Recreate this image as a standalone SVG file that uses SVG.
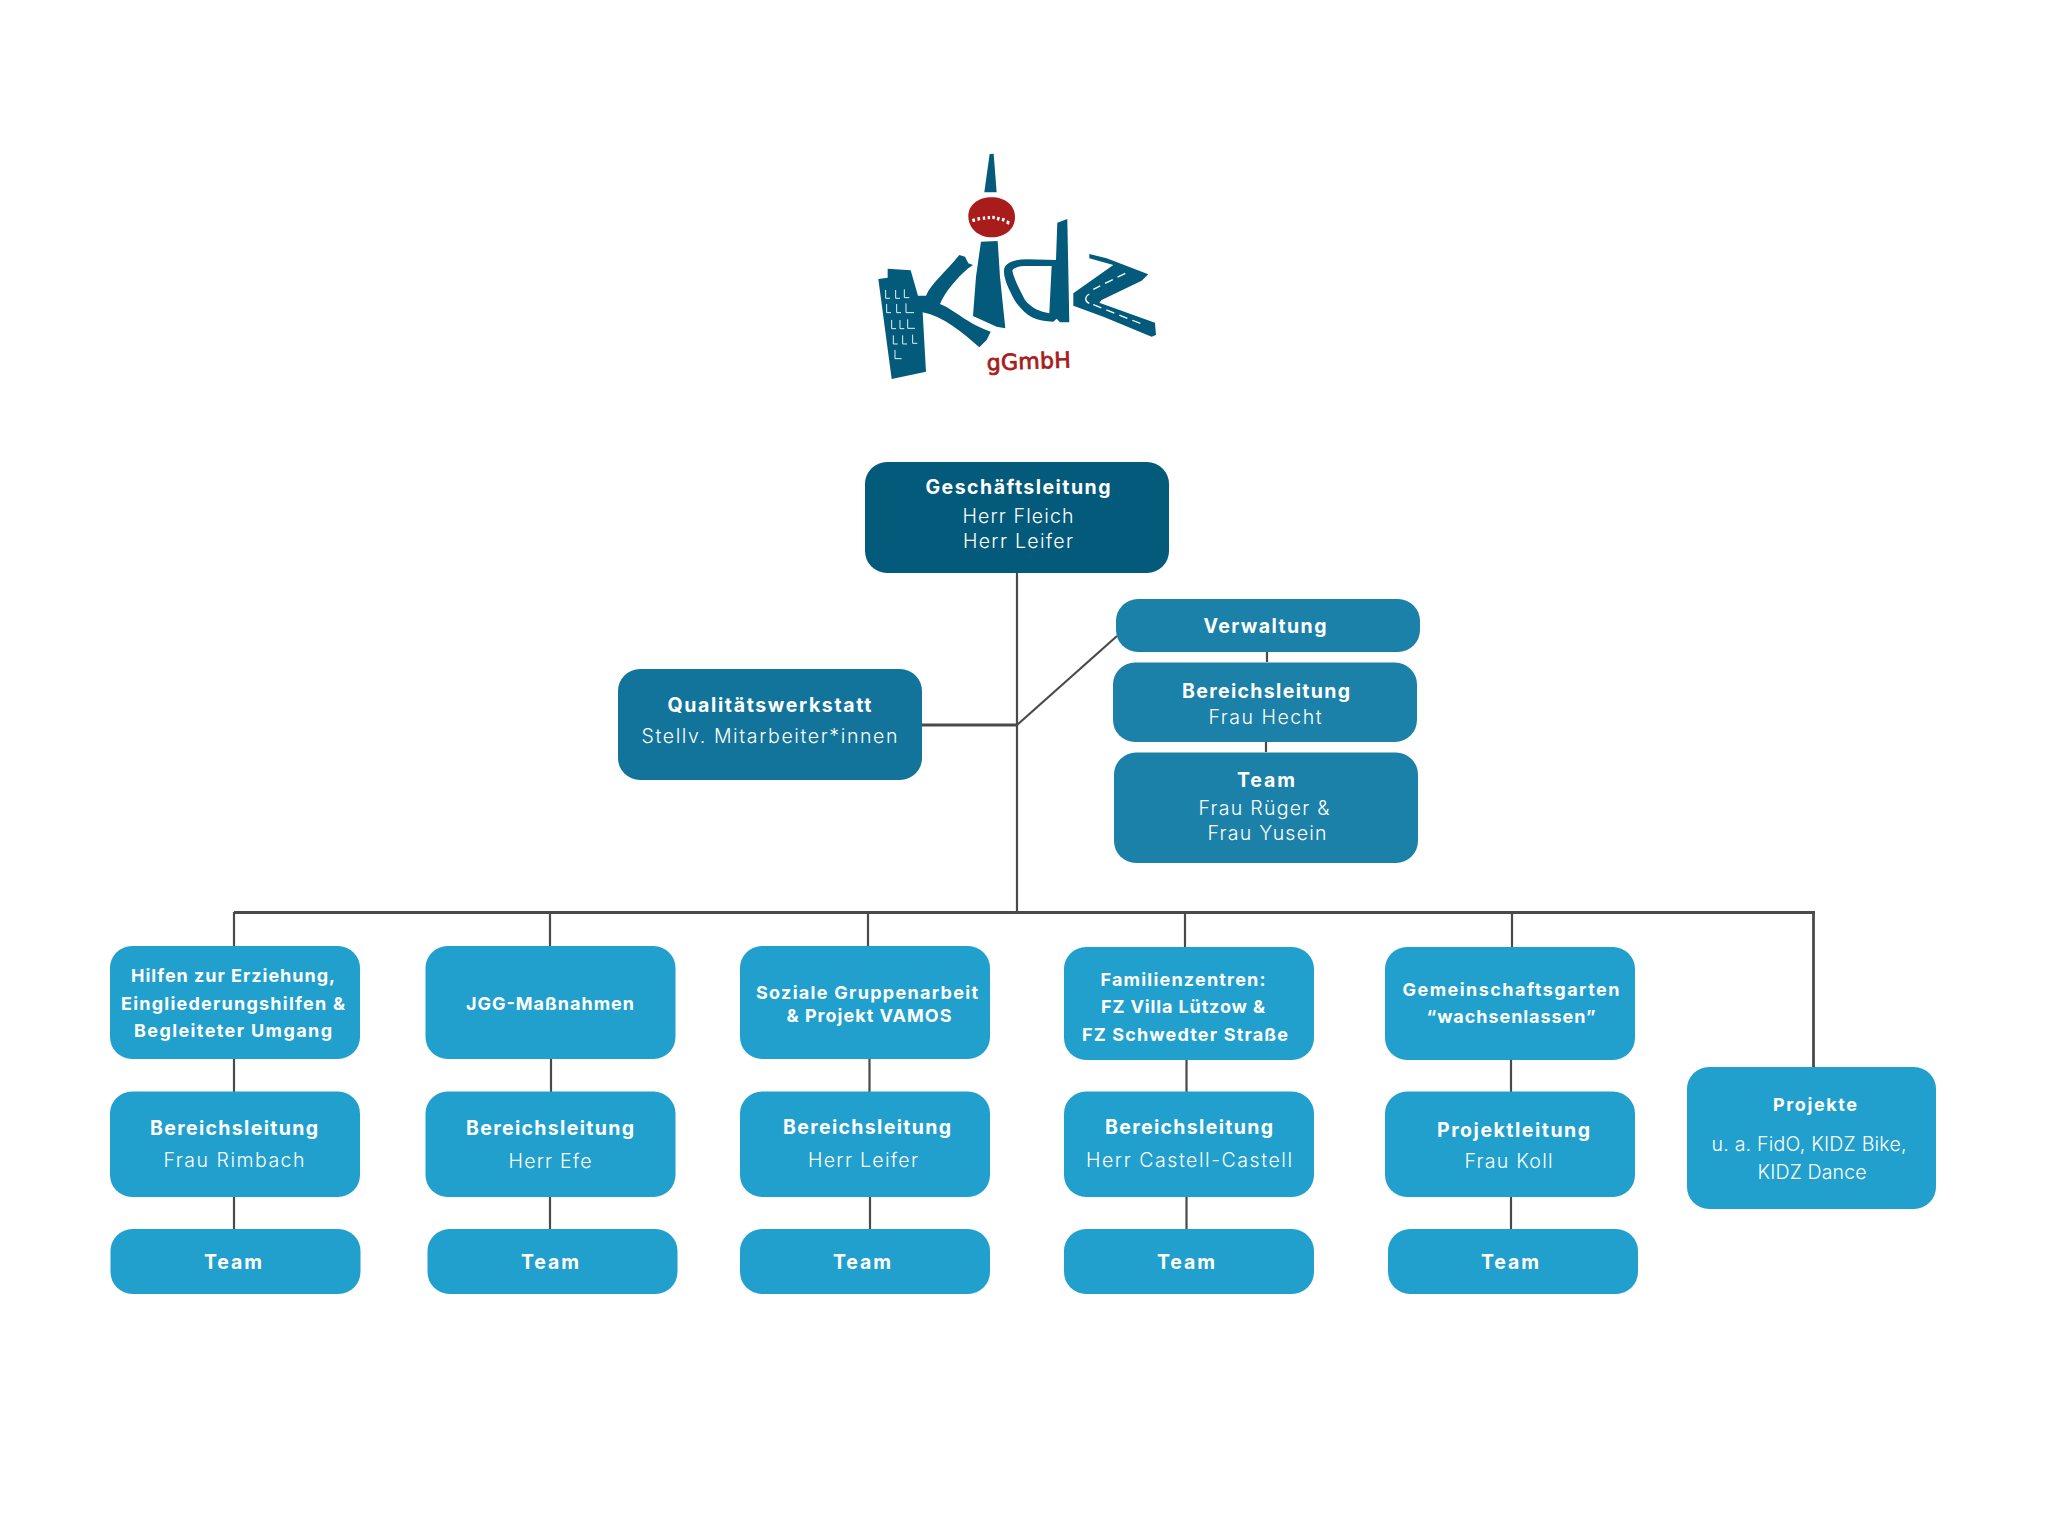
<svg xmlns="http://www.w3.org/2000/svg" width="2048" height="1536" viewBox="0 0 2048 1536">
<style>
text{font-family:"Inter","Liberation Sans",sans-serif;fill:#fff;text-anchor:middle}
.c text{transform:translateY(.8px)}
.h{font-size:19.5px;font-weight:700}
.s{font-size:18px;font-weight:700}
.r{font-size:19.5px;font-weight:300}
.c rect{rx:22px;ry:22px}
.d{fill:#045a7a}.q{fill:#12749a}.m{fill:#1c81a8}.l{fill:#21a0ce}
#connectors path{fill:none;stroke:#4a4a4a;stroke-width:2.2}
#connectors .bar{stroke-width:2.8}
.ink{fill:#045a7a}
.win{fill:none;stroke:#e8f2f6;stroke-width:3}
.dash{fill:none;stroke:#fff;stroke-width:4;stroke-dasharray:26 16}
</style>
<rect width="2048" height="1536" fill="#fff"/>
<g id="logo">
<g transform="translate(840 130) scale(.3333)">
<path class="ink" d="M449 72L461 71L470 187L433 187Z"/>
<path d="M455 202C495 202 525 225 525 262C525 298 495 322 455 322C415 322 385 295 385 258C385 225 415 202 455 202Z" fill="#a81c1c"/>
<path d="M396 267l8-2 2 10-8 1zM412 262l7-1 2 10-8 1zM428 260l7-1 1 10-7 0zM443 258l7 0 0 10-7 0zM457 257l8 1-1 10-7-1zM472 260l8 2-3 10-7-2zM487 263l8 2-3 10-7-2zM501 271l8 3-2 10-8-3z" fill="#fff"/>
<path class="ink" d="M423 335L473 333L480 440L496 595L470 590L399 558L408 440Z"/>
<path class="ink" d="M115 447L143 443L143 416L212 421L234 497L258 497C272 462 318 425 358 375L375 380L385 400L399 405L383 416C350 445 315 485 300 522C345 540 380 580 452 605L440 630L418 652C365 605 310 560 248 547L258 725L155 747Z"/>
<path class="win" d="M137 480v25h13M167 480v25h13M193 478v25h15M140 522v26h13M170 522v26h13M198 520v28h24M155 570v26h13M180 570v26h13M203 568v27h22M160 616v26h13M188 616v26h13M218 614v26h14M165 660v26h20"/>
<path class="ink" fill-rule="evenodd" d="M652 278L682 267L688 577L660 577L650 566L640 575C590 575 560 560 530 520C515 495 490 450 492 420C495 395 530 388 560 388L648 390ZM517 422C520 412 540 408 560 408L635 408L628 550C600 545 575 535 555 510C540 480 525 455 517 422Z"/>
<path class="ink" d="M748 372L800 385L925 433L905 452L785 510L778 518L945 578L948 615L935 620L790 560L700 527L700 490L820 405L748 385Z"/>
<path class="dash" d="M856 430L760 478"/>
<path d="M748 492C733 500 735 516 748 520" fill="none" stroke="#fff" stroke-width="4"/>
<path class="dash" d="M760 524L910 584"/>
</g>
<text x="1029" y="369" transform="rotate(-2 1029 369)" textLength="84" style="font-family:'DejaVu Sans',sans-serif;font-size:22px;font-weight:400;fill:#a81c1c;stroke:#a81c1c;stroke-width:.8">gGmbH</text>
</g>
<g id="connectors">
<path d="M1017 573V913"/>
<path class="bar" d="M234 912.500H1815"/>
<path class="bar" d="M921 725H1017"/>
<path d="M1017 725L1117 636"/>
<path d="M1267 652V662M1266 742V752"/>
<path d="M234 912V946M234 1059V1092M234 1197V1229"/>
<path d="M550 912V946M551 1059V1092M550 1197V1229"/>
<path d="M868 912V946M869.500 1059V1092M870 1197V1229"/>
<path d="M1185 912V947M1186.500 1060V1092M1186.500 1197V1229"/>
<path d="M1512 912V947M1511 1060V1092M1511 1197V1229"/>
<path class="bar" d="M1813.500 912V1067"/>
</g>
<g id="geschaeftsleitung" class="c"><rect class="d" x="865" y="462" width="304" height="111"/>
<text class="h" x="1018" y="493" textLength="185">Geschäftsleitung</text><text class="r" x="1018" y="522" textLength="111">Herr Fleich</text><text class="r" x="1018" y="547" textLength="110">Herr Leifer</text></g>
<g id="qualitaetswerkstatt" class="c"><rect class="q" x="618" y="669" width="304" height="111"/>
<text class="h" x="769.500" y="711" textLength="204">Qualitätswerkstatt</text><text class="r" x="769.500" y="742" textLength="256">Stellv. Mitarbeiter*innen</text></g>
<g id="verwaltung" class="c"><rect class="m" x="1116" y="599" width="304" height="53"/>
<text class="h" x="1265" y="632" textLength="123">Verwaltung</text></g>
<g id="verwaltung-leitung" class="c"><rect class="m" x="1113" y="662.500" width="304" height="79.500"/>
<text class="h" x="1266" y="697" textLength="168">Bereichsleitung</text><text class="r" x="1265" y="723" textLength="113">Frau Hecht</text></g>
<g id="verwaltung-team" class="c"><rect class="m" x="1114" y="752.500" width="304" height="110.500"/>
<text class="h" x="1266" y="786" textLength="58">Team</text><text class="r" x="1264" y="814" textLength="131">Frau Rüger &amp;</text><text class="r" x="1267" y="839" textLength="119">Frau Yusein</text></g>

<g id="hilfen" class="c"><rect class="l" x="110" y="946" width="250" height="113"/>
<text class="s" x="233" y="981" textLength="204">Hilfen zur Erziehung,</text><text class="s" x="233" y="1009" textLength="224">Eingliederungshilfen &amp;</text><text class="s" x="233" y="1036" textLength="198">Begleiteter Umgang</text></g>
<g id="hilfen-leitung" class="c"><rect class="l" x="110" y="1091.500" width="250" height="105.500"/>
<text class="h" x="234" y="1134" textLength="168">Bereichsleitung</text><text class="r" x="234" y="1166" textLength="141">Frau Rimbach</text></g>
<g id="hilfen-team" class="c"><rect class="l" x="110.500" y="1229" width="250" height="65"/>
<text class="h" x="233" y="1268" textLength="58">Team</text></g>

<g id="jgg" class="c"><rect class="l" x="425.500" y="946" width="250" height="113"/>
<text class="s" x="550" y="1009" textLength="168">JGG-Maßnahmen</text></g>
<g id="jgg-leitung" class="c"><rect class="l" x="425.500" y="1091.500" width="250" height="105.500"/>
<text class="h" x="550" y="1134" textLength="168">Bereichsleitung</text><text class="r" x="550" y="1167" textLength="83">Herr Efe</text></g>
<g id="jgg-team" class="c"><rect class="l" x="427.500" y="1229" width="250" height="65"/>
<text class="h" x="550" y="1268" textLength="58">Team</text></g>

<g id="soziale" class="c"><rect class="l" x="740" y="946" width="250" height="113"/>
<text class="s" x="867" y="998" textLength="222">Soziale Gruppenarbeit</text><text class="s" x="869" y="1021" textLength="165">&amp; Projekt VAMOS</text></g>
<g id="soziale-leitung" class="c"><rect class="l" x="740" y="1091.500" width="250" height="105.500"/>
<text class="h" x="867" y="1133" textLength="168">Bereichsleitung</text><text class="r" x="863" y="1166" textLength="110">Herr Leifer</text></g>
<g id="soziale-team" class="c"><rect class="l" x="740" y="1229" width="250" height="65"/>
<text class="h" x="862" y="1268" textLength="58">Team</text></g>

<g id="familienzentren" class="c"><rect class="l" x="1064" y="947" width="250" height="113"/>
<text class="s" x="1183" y="985" textLength="165">Familienzentren:</text><text class="s" x="1183" y="1012" textLength="164">FZ Villa Lützow &amp;</text><text class="s" x="1185" y="1040" textLength="206">FZ Schwedter Straße</text></g>
<g id="familienzentren-leitung" class="c"><rect class="l" x="1064" y="1091.500" width="250" height="105.500"/>
<text class="h" x="1189" y="1133" textLength="168">Bereichsleitung</text><text class="r" x="1189" y="1166" textLength="206">Herr Castell-Castell</text></g>
<g id="familienzentren-team" class="c"><rect class="l" x="1064" y="1229" width="250" height="65"/>
<text class="h" x="1186" y="1268" textLength="58">Team</text></g>

<g id="garten" class="c"><rect class="l" x="1385" y="947" width="250" height="113"/>
<text class="s" x="1511" y="995" textLength="217">Gemeinschaftsgarten</text><text class="s" x="1511" y="1022" textLength="169">“wachsenlassen”</text></g>
<g id="garten-leitung" class="c"><rect class="l" x="1385" y="1091.500" width="250" height="105.500"/>
<text class="h" x="1513.500" y="1136" textLength="153">Projektleitung</text><text class="r" x="1508.500" y="1167" textLength="88">Frau Koll</text></g>
<g id="garten-team" class="c"><rect class="l" x="1388" y="1229" width="250" height="65"/>
<text class="h" x="1510" y="1268" textLength="58">Team</text></g>

<g id="projekte" class="c"><rect class="l" x="1687" y="1067" width="249" height="142"/>
<text class="s" x="1815" y="1110" textLength="84">Projekte</text><text class="r" x="1809" y="1150" textLength="195">u. a. FidO, KIDZ Bike,</text><text class="r" x="1812" y="1178" textLength="109">KIDZ Dance</text></g>
</svg>
